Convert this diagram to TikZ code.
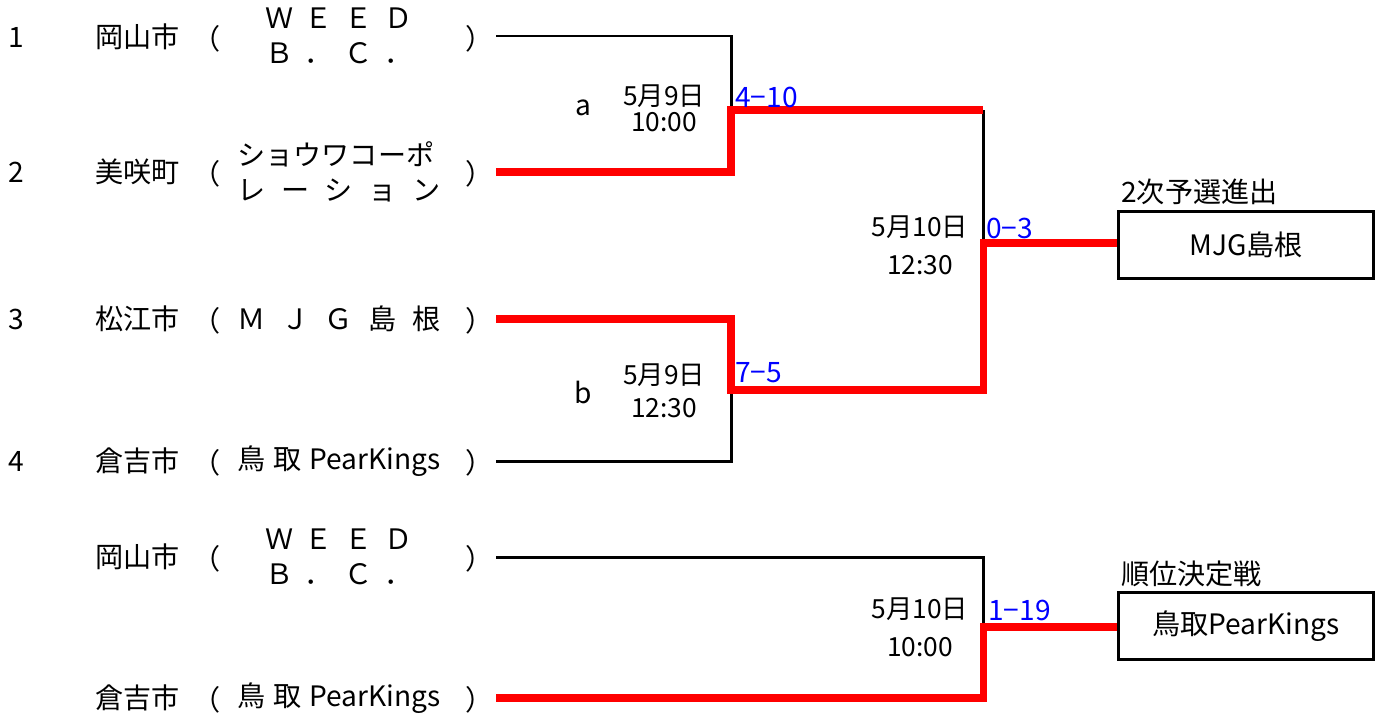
\documentclass[tikz,border=0pt]{standalone}
\usepackage{fontspec}
\setmainfont{Noto Sans CJK JP}
\usetikzlibrary{positioning}

\tikzset{
  lose/.style={line width=1.7pt},
  win/.style={line width=4pt, red},
  txt/.style={inner sep=0pt, font=\fontsize{16}{19.8}\selectfont},
  small/.style={inner sep=0pt, font=\fontsize{15}{18}\selectfont},
  score/.style={inner sep=0pt, font=\fontsize{16}{18}\selectfont, anchor=west, text=blue},
  result/.style={draw, line width=2.2pt, minimum width=5.1cm, minimum height=1.34cm, txt},
}

\newcommand{\spread}[2]{\makebox[#1][s]{#2}}

\begin{document}
\begin{tikzpicture}[x=0.02cm, y=-0.02cm]
\useasboundingbox (0,0) rectangle (1388,720);

% Seeds
\node[txt] (n1) at (16,37) {1};
\node[txt] (n2) at (16,172) {2};
\node[txt] (n3) at (16,319) {3};
\node[txt] (n4) at (16,461) {4};

% Teams
\node[txt, anchor=west] (c1) at (95,37) {岡山市};
\node[txt] (l1) at (207,39) {（};
\node[txt, align=center] (m1) at (339,36) {\spread{2.96cm}{Ｗ\hfill Ｅ\hfill Ｅ\hfill Ｄ}\\\spread{2.96cm}{Ｂ\hfill ．\hfill Ｃ\hfill ．}};
\node[txt] (r1) at (480,39) {）};

\node[txt, anchor=west] (c2) at (95,172) {美咲町};
\node[txt] (l2) at (207,174) {（};
\node[txt, align=center] (m2) at (339,172) {\spread{4.06cm}{ショウワコーポ}\\\spread{4.06cm}{レ\hfill ー\hfill シ\hfill ョ\hfill ン}};
\node[txt] (r2) at (480,174) {）};

\node[txt, anchor=west] (c3) at (95,319) {松江市};
\node[txt] (l3) at (207,321) {（};
\node[txt] (m3) at (339,319) {\spread{4.06cm}{Ｍ\hfill Ｊ\hfill Ｇ\hfill 島\hfill 根}};
\node[txt] (r3) at (480,321) {）};

\node[txt, anchor=west] (c4) at (95,461) {倉吉市};
\node[txt] (l4) at (207,463) {（};
\node[txt] (m4) at (339,461) {\spread{4.06cm}{鳥\hfill 取\hfill PearKings}};
\node[txt] (r4) at (480,463) {）};

\node[txt, anchor=west] (c5) at (95,557) {岡山市};
\node[txt] (l5) at (207,559) {（};
\node[txt, align=center] (m5) at (339,557) {\spread{2.96cm}{Ｗ\hfill Ｅ\hfill Ｅ\hfill Ｄ}\\\spread{2.96cm}{Ｂ\hfill ．\hfill Ｃ\hfill ．}};
\node[txt] (r5) at (480,559) {）};

\node[txt, anchor=west] (c6) at (95,698) {倉吉市};
\node[txt] (l6) at (207,700) {（};
\node[txt] (m6) at (339,698) {\spread{4.06cm}{鳥\hfill 取\hfill PearKings}};
\node[txt] (r6) at (480,700) {）};

% Bracket points
\coordinate (t1) at (496,36);
\coordinate (t2) at (496,172);
\coordinate (t3) at (496,319);
\coordinate (t4) at (496,461);
\coordinate (t5) at (496,557);
\coordinate (t6) at (496,698);
\coordinate (sfa) at (731,110);
\coordinate (sfb) at (731,390);
\coordinate (fa) at (983,110);
\coordinate (fb) at (983,390);
\coordinate (fin) at (983,243);
\coordinate (pm) at (983,627);

% Results
\node[result] (champ) at (1246,245) {MJG島根};
\node[result] (rank) at (1246,626) {鳥取PearKings};
\node[txt, anchor=west] (adv) at (1121,192) {2次予選進出};
\node[txt, anchor=west] (plc) at (1121,574) {順位決定戦};

% Losing lines
\draw[lose] (t1) -| (sfa);
\draw[lose] (t4) -| (sfb);
\draw[lose] (fa) -- (fin);
\draw[lose] (t5) -| (pm);

% Winning lines
\draw[win] (t2) -| (sfa) -- (fa);
\draw[win] (t3) -| (sfb) -- (fb) -- (fin) -- (fin -| champ.west);
\draw[win] (t6) -| (pm) -- (pm -| rank.west);

% Matches
\node[txt] (ga) at (583,108) {a};
\node[small] (da) at (664,96) {5月9日};
\node[small] (ha) at (664,122) {10:00};
\node[score] (sa) at (735,97) {4−10};

\node[txt] (gb) at (583,392) {b};
\node[small] (db) at (664,375) {5月9日};
\node[small] (hb) at (664,408) {12:30};
\node[score] (sb) at (735,373) {7−5};

\node[small] (df) at (920,227) {5月10日};
\node[small] (hf) at (920,265) {12:30};
\node[score] (sf) at (986,228) {0−3};

\node[small] (dp) at (920,609) {5月10日};
\node[small] (hp) at (920,647) {10:00};
\node[score] (sp) at (988,610) {1−19};

\end{tikzpicture}
\end{document}
